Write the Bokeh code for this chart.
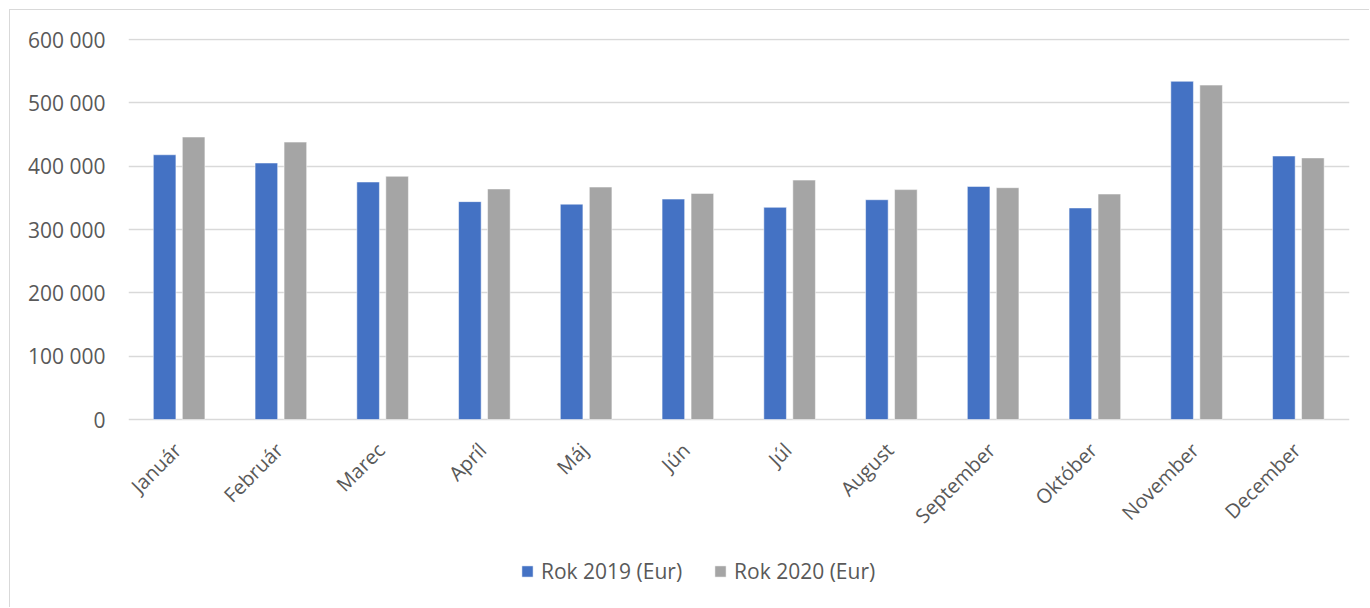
import math
from bokeh.plotting import figure
from bokeh.models import ColumnDataSource, FactorRange, Range1d, Legend, LegendItem, FixedTicker, CustomJSTickFormatter
from bokeh.core.properties import value
from bokeh.transform import dodge
from bokeh.embed import file_html
from bokeh.resources import INLINE

months = ["Január", "Február", "Marec", "Apríl", "Máj", "Jún", "Júl",
          "August", "September", "Október", "November", "December"]
rok_2019 = [418000, 405000, 375000, 344000, 340000, 348000, 335000,
            347000, 368000, 334000, 534000, 416000]
rok_2020 = [446000, 438000, 384000, 364000, 367000, 357000, 378000,
            363000, 366000, 356000, 528000, 413000]
y_ticks = [0, 100000, 200000, 300000, 400000, 500000, 600000]
series_names = ["Rok 2019 (Eur)", "Rok 2020 (Eur)"]

source = ColumnDataSource(dict(months=months, r2019=rok_2019, r2020=rok_2020,
                               base=[0] * len(months)))

FONT = "Open Sans"
TXT = "#595959"
GRID = "#d9d9d9"

# layout (page pixels): frame top 38, zero line 419, 600 000 line 39, frame bottom 608
px_per_unit = 380 / 600000
y_start = -(608 - 419) / px_per_unit
y_end = 600000 + (39 - 38) / px_per_unit

p = figure(width=1360, height=598, output_backend="svg", toolbar_location=None,
           x_range=FactorRange(*months, range_padding=0),
           y_range=Range1d(y_start, y_end),
           min_border_left=118, min_border_right=21, min_border_top=28,
           min_border_bottom=0)
p.styles = {"margin-left": "9px", "margin-top": "9px",
            "border-left": "1px solid #d9d9d9", "border-top": "1px solid #d9d9d9"}
p.outline_line_color = None
p.background_fill_color = "white"

b1 = p.vbar(x=dodge("months", -0.145, range=p.x_range), top="r2019", width=0.222,
            source=source, fill_color="#4472c4", line_color="#ffffff", line_alpha=0.5)
b2 = p.vbar(x=dodge("months", 0.14, range=p.x_range), top="r2020", width=0.222,
            source=source, fill_color="#a5a5a5", line_color="#ffffff", line_alpha=0.5)

# month labels below the zero line
p.text(x="months", y="base", text="months", source=source, angle=math.pi / 4,
       x_offset=-2, y_offset=27, text_align="right", text_baseline="middle",
       text_font=value(FONT), text_font_size="20px", text_color=TXT)

p.xgrid.grid_line_color = None
p.ygrid.grid_line_color = GRID
p.ygrid.grid_line_width = 1.5
p.ygrid.ticker = FixedTicker(ticks=y_ticks)

p.yaxis.ticker = FixedTicker(ticks=y_ticks)
p.yaxis.formatter = CustomJSTickFormatter(code="""
    return tick.toString().replace(/\\B(?=(\\d{3})+(?!\\d))/g, ' ');
""")
p.yaxis.axis_line_color = None
p.yaxis.major_tick_line_color = None
p.yaxis.minor_tick_line_color = None
p.yaxis.major_label_standoff = 17
p.yaxis.major_label_text_font = FONT
p.yaxis.major_label_text_font_size = "21px"
p.yaxis.major_label_text_color = TXT

p.xaxis.visible = False

legend = Legend(items=[LegendItem(label=series_names[0], renderers=[b1]),
                       LegendItem(label=series_names[1], renderers=[b2])],
                location=(392, 23), orientation="horizontal",
                glyph_width=14, glyph_height=14, label_standoff=7, spacing=31,
                padding=0, margin=0, border_line_color=None,
                background_fill_alpha=0,
                label_text_font=FONT, label_text_font_size="21px",
                label_text_color=TXT, label_height=20)
p.add_layout(legend)

open("out.html", "w").write(file_html(p, INLINE))
